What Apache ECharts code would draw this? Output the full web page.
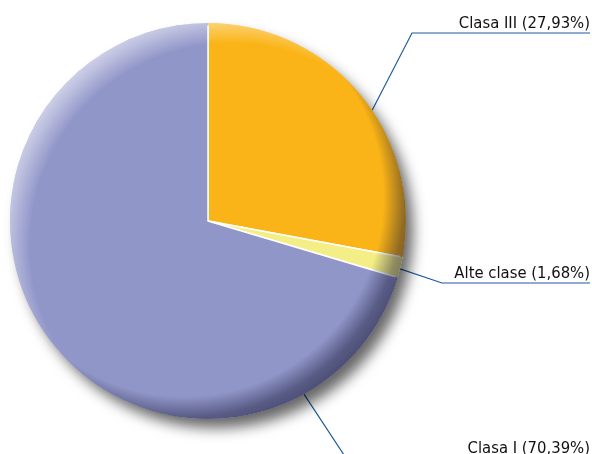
<!DOCTYPE html>
<html><head><meta charset="utf-8">
<script src="https://cdn.jsdelivr.net/npm/echarts@6/dist/echarts.min.js"></script>
<style>html,body{margin:0;padding:0;background:#fff}#c{width:592px;height:454px}</style>
</head><body><div id="c"></div>
<script>
const categories = ['Clasa III', 'Alte clase', 'Clasa I'];
const values = [27.93, 1.68, 70.39];
const sliceColors = ['#FAB417', '#F4EE86', '#9196C9'];
// leader-line layout (anchor angle on rim in degrees clockwise from top, bend point)
const anchorAngles = [56, 104, 151];
const bends = [[412, 33], [442, 283], [346, 458]];

const CX = 208, CY = 221, R = 198;
const chart = echarts.init(document.getElementById('c'));
const fmt = v => v.toFixed(2).replace('.', ',');
const sliceData = () => categories.map((n, i) => ({ name: n, value: values[i], itemStyle: { color: sliceColors[i] } }));

const overlay = (stops, cx, cy) => ({
  type: 'pie', center: [CX, CY], radius: R, silent: true, startAngle: 90,
  label: { show: false }, labelLine: { show: false }, emphasis: { disabled: true },
  itemStyle: { color: { type: 'radial', x: cx, y: cy, r: 0.585, colorStops: stops } },
  data: [1], animation: false
});

chart.setOption({
  animation: false,
  series: [
    {
      type: 'pie', center: [CX, CY], radius: R - 1, silent: true,
      label: { show: false }, labelLine: { show: false },
      itemStyle: { color: '#9a9aa8', shadowBlur: 14, shadowOffsetX: 8, shadowOffsetY: 10, shadowColor: 'rgba(0,0,0,0.6)' },
      data: [1]
    },
    {
      type: 'pie', center: [CX, CY], radius: R - 1, startAngle: 90, clockwise: true,
      avoidLabelOverlap: false,
      itemStyle: { borderColor: '#ffffff', borderWidth: 1.5 },
      emphasis: { disabled: true },
      label: {
        show: true, position: 'outside', color: '#111111', fontSize: 16.5,
        fontFamily: "'Liberation Sans Narrow', 'DejaVu Sans Condensed', sans-serif",
        formatter: p => p.name + ' (' + fmt(p.value) + '%)'
      },
      labelLine: { show: true, lineStyle: { color: '#1f5c9e', width: 1.2 } },
      labelLayout: function (p) {
        const i = p.dataIndex;
        const a = anchorAngles[i] * Math.PI / 180;
        const p0 = [CX + R * Math.sin(a), CY - R * Math.cos(a)];
        const right = chart.getWidth() - 2;
        const b = bends[i];
        return {
          x: right, y: b[1] - 1, align: 'right', verticalAlign: 'bottom',
          labelLinePoints: [p0, b, [right, b[1]]]
        };
      },
      data: sliceData()
    },
    {
      type: 'pie', center: [CX, CY], radius: [R - 2.5, R], startAngle: 90, silent: true,
      label: { show: false }, labelLine: { show: false }, emphasis: { disabled: true },
      data: sliceData()
    },
    overlay([
      { offset: 0, color: 'rgba(255,255,255,0)' },
      { offset: 0.87, color: 'rgba(255,255,255,0)' },
      { offset: 0.96, color: 'rgba(255,255,255,0.4)' },
      { offset: 1, color: 'rgba(255,255,255,0.55)' }
    ], 0.56, 0.56),
    overlay([
      { offset: 0, color: 'rgba(20,20,50,0)' },
      { offset: 0.86, color: 'rgba(20,20,50,0)' },
      { offset: 0.95, color: 'rgba(20,20,50,0.45)' },
      { offset: 1, color: 'rgba(20,20,50,0.55)' }
    ], 0.44, 0.44)
  ]
});
</script></body></html>
